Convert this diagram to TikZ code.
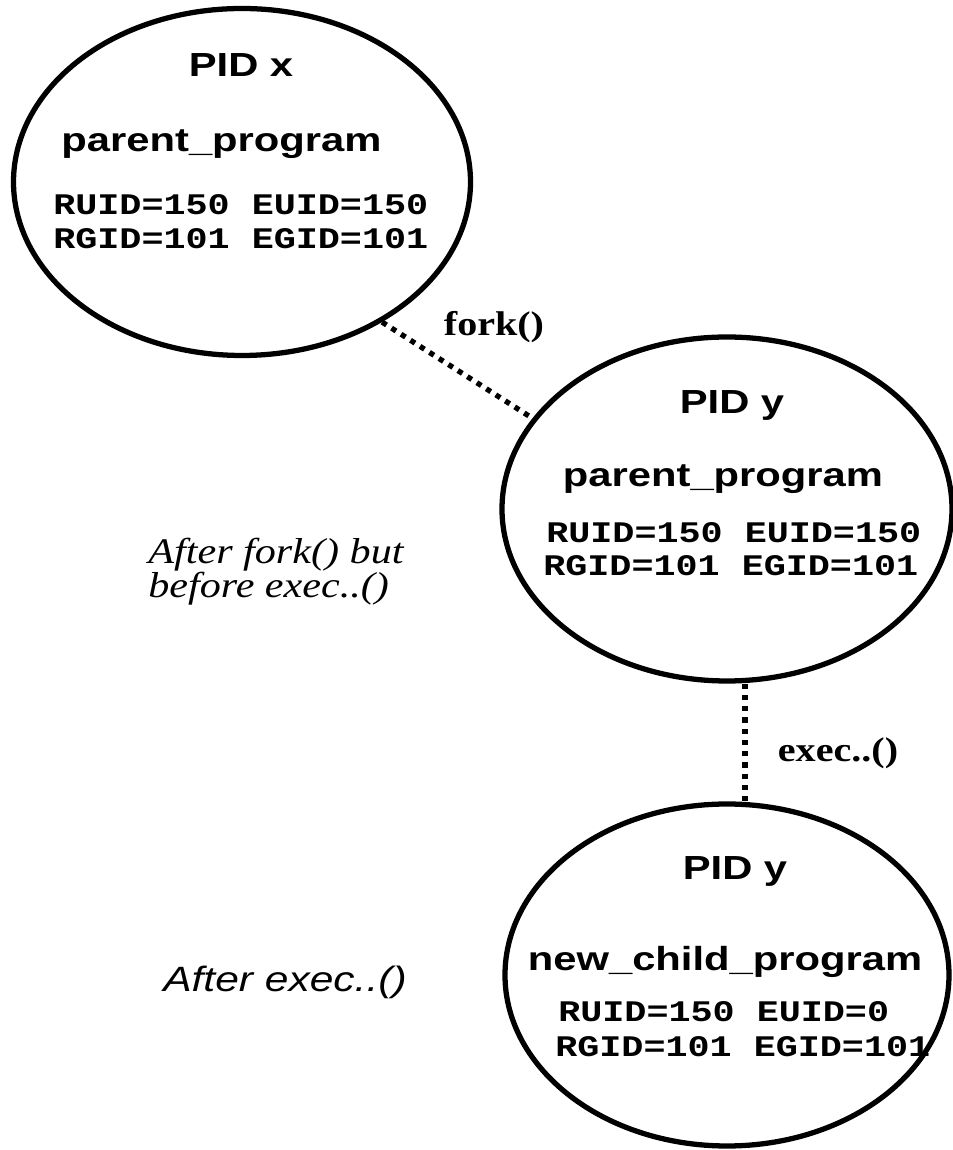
\documentclass[tikz,border=0pt]{standalone}
\usepackage{fontspec}
\usepackage{tikz}
\usetikzlibrary{shapes.geometric, positioning}
\newfontfamily\labelsans{Liberation Sans}[FakeStretch=1.25]
\newfontfamily\labelsansit{Liberation Sans}[FakeStretch=1.21]
\newfontfamily\labelmono{Liberation Mono}[FakeStretch=1.23]
\newfontfamily\labelserif{Liberation Serif}[FakeStretch=1.17]
\tikzset{
  process/.style = {ellipse, draw=black, line width=3pt, inner sep=0pt},
  pidtext/.style = {anchor=base, inner sep=0pt, font=\labelsans\bfseries\fontsize{19}{23}\selectfont},
  idtext/.style = {anchor=base west, inner sep=0pt, font=\labelmono\bfseries\fontsize{17}{20}\selectfont},
  calltext/.style = {anchor=base, inner sep=0pt, font=\labelserif\bfseries\fontsize{19.5}{23}\selectfont},
  link/.style = {line width=3pt, dash pattern=on 3pt off 3.4pt}
}

\begin{document}
\begin{tikzpicture}
    \useasboundingbox (0,0) rectangle (19.04,23);

    % Processes
    \node[process, minimum width=9.14cm, minimum height=6.94cm] (parent) at (4.84, 19.36) {};
    \node[process, minimum width=9.0cm, minimum height=6.88cm] (forked) at (14.54, 12.82) {};
    \node[process, minimum width=8.88cm, minimum height=6.84cm] (child) at (14.54, 3.5) {};

    % Parent process
    \node[pidtext] (pidx) at (4.82, 21.46) {PID x};
    \node[pidtext] (progx) at (4.43, 19.96) {parent\_program};
    \node[idtext] (uidx) at (1.06, 18.70) {RUID=150 EUID=150};
    \node[idtext] (gidx) at (1.06, 18.02) {RGID=101 EGID=101};

    % After fork
    \node[pidtext] (pidy) at (14.64, 14.72) {PID y};
    \node[pidtext] (progy) at (14.46, 13.26) {parent\_program};
    \node[idtext] (uidy) at (10.92, 12.14) {RUID=150 EUID=150};
    \node[idtext] (gidy) at (10.86, 11.48) {RGID=101 EGID=101};

    % After exec
    \node[pidtext] (pidz) at (14.7, 5.4) {PID y};
    \node[pidtext] (progz) at (14.5, 3.58) {new\_child\_program};
    \node[idtext] (uidz) at (11.16, 2.56) {RUID=150 EUID=0};
    \node[idtext] (gidz) at (11.1, 1.86) {RGID=101 EGID=101};

    % Calls
    \draw[link] (parent.-45) -- (forked.155);
    \draw[link] ([xshift=0.36cm]forked.south) -- ([xshift=0.36cm]child.north);
    \node[calltext] (fork) at (9.88, 16.28) {fork()};
    \node[calltext] (exec) at (16.76, 7.76) {exec..()};

    % Notes
    \node[anchor=base west, inner sep=0pt, align=left,
          font=\labelserif\itshape\fontsize{20.5}{19.9}\selectfont] (notefork) at (2.96, 11.04)
          {After fork() but\\before exec..()};
    \node[anchor=base, inner sep=0pt, font=\labelsansit\itshape\fontsize{20}{24}\selectfont] (noteexec) at (5.7, 3.16) {After exec..()};
\end{tikzpicture}
\end{document}
